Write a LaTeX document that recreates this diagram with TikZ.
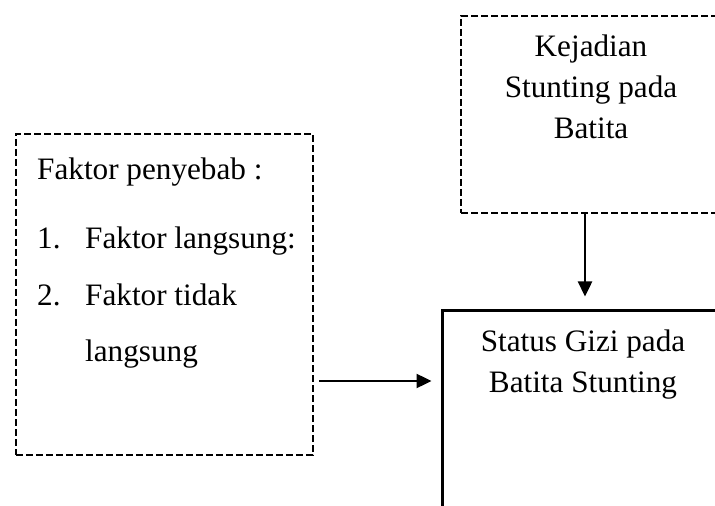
\documentclass[tikz,border=0pt]{standalone}
\usepackage{fontspec}
\setmainfont{Liberation Serif}
\usetikzlibrary{arrows.meta,positioning}
\tikzset{dashbox/.style={rectangle, draw, line width=1.2pt,
    dash pattern=on 3.5pt off 1.5pt, inner sep=0pt},
  solidbox/.style={rectangle, draw, line width=1.5pt, inner sep=0pt},
  txt/.style={inner sep=0pt, font=\fontsize{15.6}{20.5}\selectfont}}

\begin{document}
\begin{tikzpicture}[x=0.5pt,y=-0.5pt,>={Triangle[length=7.5pt,width=7pt]},
                    line width=1.2pt]
  \clip (0,0) rectangle (715,506);
  % boxes
  \node[dashbox, minimum width=148.5pt, minimum height=160.5pt] (faktor)   at (164.5,294.5) {};
  \node[dashbox, minimum width=130pt, minimum height=98.5pt]    (kejadian) at (591,114.5) {};
  \node[solidbox, minimum width=141pt, minimum height=130pt]    (status)   at (583,441) {};

  % texts
  \node[txt, anchor=base west] (judul)  at (36,180) {Faktor penyebab :};
  \node[txt, anchor=base west] (no1)    at (36,249) {1.};
  \node[txt, anchor=base west] (item1)  at (84,249) {Faktor langsung:};
  \node[txt, anchor=base west] (no2)    at (36,306) {2.};
  \node[txt, anchor=base west] (item2)  at (84,306) {Faktor tidak};
  \node[txt, anchor=base west] (item2b) at (84,362) {langsung};
  \node[txt, align=center, anchor=north] (kejadiantxt) at (591,34) {Kejadian\\Stunting pada\\Batita};
  \node[txt, align=center, anchor=north] (statustxt)   at (583,329) {Status Gizi pada\\Batita Stunting};

  % arrows
  \coordinate (atas) at ([xshift=-3pt]kejadian.south);
  \coordinate (kiri) at ([yshift=-43.25pt]faktor.east);
  \draw[->, shorten >=6.5pt] (atas) -- (atas |- status.north);
  \draw[->, shorten <=2.5pt, shorten >=4.5pt] (kiri) -- (kiri -| status.west);
\end{tikzpicture}
\end{document}
